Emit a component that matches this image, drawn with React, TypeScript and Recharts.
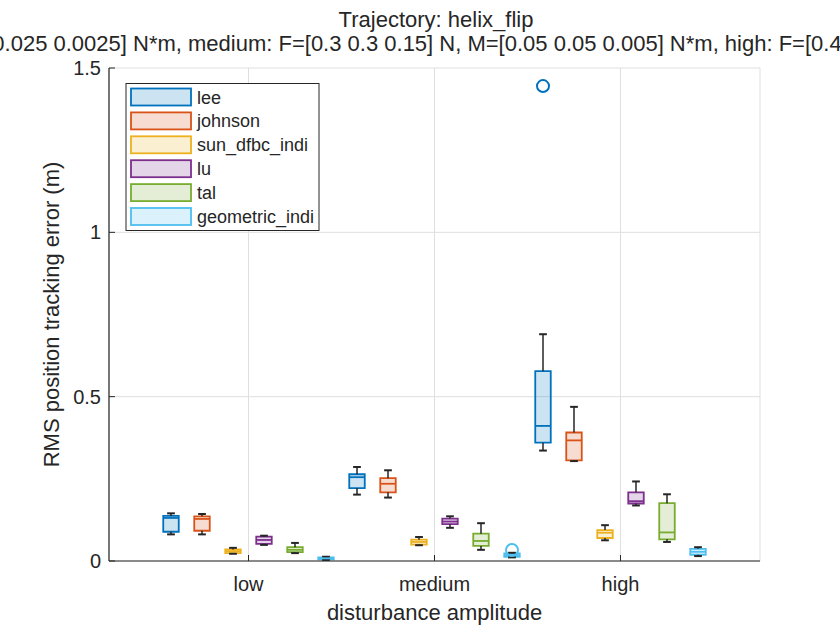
import { ComposedChart, XAxis, YAxis, CartesianGrid, ReferenceArea, ReferenceLine, Scatter } from "recharts";

const GROUPS = ["low", "medium", "high"];
const GROUP_X = [1, 2, 3];
const Y_TICKS = [0, 0.5, 1, 1.5];

const CONTROLLERS = ["lee", "johnson", "sun_dfbc_indi", "lu", "tal", "geometric_indi"];
const COLORS = ["#0072BD", "#D95319", "#EDB120", "#7E2F8E", "#77AC30", "#4DBEEE"];

// [min whisker, q1, median, q3, max whisker] for low / medium / high
const LEE = [
  [0.081, 0.089, 0.131, 0.137, 0.145],
  [0.202, 0.222, 0.255, 0.264, 0.286],
  [0.336, 0.36, 0.411, 0.578, 0.69],
];
const JOHNSON = [
  [0.081, 0.092, 0.128, 0.136, 0.143],
  [0.193, 0.209, 0.235, 0.252, 0.276],
  [0.304, 0.306, 0.367, 0.391, 0.469],
];
const SUN_DFBC_INDI = [
  [0.022, 0.024, 0.03, 0.035, 0.04],
  [0.048, 0.05, 0.058, 0.065, 0.073],
  [0.063, 0.07, 0.086, 0.094, 0.109],
];
const LU = [
  [0.049, 0.052, 0.064, 0.074, 0.077],
  [0.101, 0.112, 0.12, 0.129, 0.136],
  [0.169, 0.175, 0.182, 0.209, 0.242],
];
const TAL = [
  [0.024, 0.027, 0.034, 0.042, 0.055],
  [0.034, 0.046, 0.061, 0.083, 0.115],
  [0.058, 0.066, 0.087, 0.176, 0.203],
];
const GEOMETRIC_INDI = [
  [0.003, 0.005, 0.008, 0.011, 0.013],
  [0.011, 0.013, 0.018, 0.023, 0.025],
  [0.015, 0.019, 0.028, 0.037, 0.042],
];
const SUMMARIES = [LEE, JOHNSON, SUN_DFBC_INDI, LU, TAL, GEOMETRIC_INDI];

const OUTLIERS = [
  { controller: 0, group: 2, value: 1.445 },
  { controller: 5, group: 1, value: 0.0335 },
];

const TITLE = "Trajectory: helix_flip";
const SUBTITLE =
  "low: F=[0.15 0.15 0.075] N, M=[0.025 0.025 0.0025] N*m, medium: F=[0.3 0.3 0.15] N, M=[0.05 0.05 0.005] N*m, high: F=[0.45 0.45 0.225] N, M=[0.075 0.075 0.0075] N*m";

const FONT = "'Liberation Sans', Arial, Helvetica, sans-serif";
const INK = "#262626";
const SLOT = 1 / 6;
const HALF_BOX = SLOT / 4;
const HALF_CAP = SLOT / 8;

const boxes = CONTROLLERS.flatMap((name, ci) =>
  GROUP_X.map((gx, gi) => ({
    key: `${name}-${gi}`,
    color: COLORS[ci],
    x: gx + (ci - 2.5) * SLOT,
    s: SUMMARIES[ci][gi],
  }))
);

const outlierPoints = OUTLIERS.map((o) => ({
  x: GROUP_X[o.group] + (o.controller - 2.5) * SLOT,
  y: o.value,
  color: COLORS[o.controller],
}));

const XTick = ({ x, y, payload }: any) => (
  <g>
    <line x1={x} x2={x} y1={y} y2={y - 6} stroke={INK} strokeWidth={1} />
    <text x={x} y={y + 30} textAnchor="middle" fontSize={20} fill={INK} fontFamily={FONT}>
      {GROUPS[GROUP_X.indexOf(payload.value)]}
    </text>
  </g>
);

const YTick = ({ x, y, payload }: any) => (
  <g>
    <line x1={x} x2={x + 6} y1={y} y2={y} stroke={INK} strokeWidth={1} />
    <text x={x - 8} y={y + 7} textAnchor="end" fontSize={20} fill={INK} fontFamily={FONT}>
      {String(payload.value)}
    </text>
  </g>
);

const XLabel = (props: any) => {
  const vb = props.viewBox || { x: 109, y: 561, width: 651, height: 60 };
  return (
    <text x={vb.x + vb.width / 2} y={vb.y + 59} textAnchor="middle" fontSize={22} fill={INK} fontFamily={FONT}>
      disturbance amplitude
    </text>
  );
};

const YLabel = (props: any) => {
  const vb = props.viewBox || { x: 39, y: 68, width: 70, height: 493 };
  const lx = vb.x + 20;
  const ly = vb.y + vb.height / 2;
  return (
    <text
      x={lx}
      y={ly}
      transform={`rotate(-90, ${lx}, ${ly})`}
      textAnchor="middle"
      fontSize={22}
      fill={INK}
      fontFamily={FONT}
    >
      RMS position tracking error (m)
    </text>
  );
};

function boxElements() {
  const out: any[] = [];
  boxes.forEach((b) => {
    const [lo, q1, med, q3, hi] = b.s;
    out.push(
      <ReferenceLine key={`${b.key}-us`} segment={[{ x: b.x, y: q3 }, { x: b.x, y: hi }]} stroke={INK} strokeWidth={1.5} />,
      <ReferenceLine key={`${b.key}-ls`} segment={[{ x: b.x, y: lo }, { x: b.x, y: q1 }]} stroke={INK} strokeWidth={1.5} />,
      <ReferenceLine
        key={`${b.key}-uc`}
        segment={[{ x: b.x - HALF_CAP, y: hi }, { x: b.x + HALF_CAP, y: hi }]}
        stroke={INK}
        strokeWidth={2}
      />,
      <ReferenceLine
        key={`${b.key}-lc`}
        segment={[{ x: b.x - HALF_CAP, y: lo }, { x: b.x + HALF_CAP, y: lo }]}
        stroke={INK}
        strokeWidth={2}
      />,
      <ReferenceArea
        key={`${b.key}-box`}
        x1={b.x - HALF_BOX}
        x2={b.x + HALF_BOX}
        y1={q1}
        y2={q3}
        fill={b.color}
        fillOpacity={0.2}
        stroke={b.color}
        strokeWidth={1.8}
        strokeOpacity={1}
      />,
      <ReferenceLine
        key={`${b.key}-med`}
        segment={[{ x: b.x - HALF_BOX, y: med }, { x: b.x + HALF_BOX, y: med }]}
        stroke={b.color}
        strokeWidth={1.8}
      />
    );
  });
  return out;
}

function Legend() {
  return (
    <svg width={840} height={630} style={{ position: "absolute", left: 0, top: 0, pointerEvents: "none" }}>
      <rect x={126} y={83.5} width={193} height={147} fill="#ffffff" stroke={INK} strokeWidth={1} />
      {CONTROLLERS.map((name, i) => {
        const top = 88.5 + i * 23.9;
        return (
          <g key={name}>
            <rect x={131} y={top} width={60} height={17} fill="#ffffff" />
            <rect
              x={131}
              y={top}
              width={60}
              height={17}
              fill={COLORS[i]}
              fillOpacity={0.2}
              stroke={COLORS[i]}
              strokeWidth={1.8}
            />
            <text x={197} y={top + 15} fontSize={18} fill={INK} fontFamily={FONT}>
              {name}
            </text>
          </g>
        );
      })}
      <text x={436} y={26.5} textAnchor="middle" fontSize={22} fill={INK} fontFamily={FONT}>
        {TITLE}
      </text>
      <text x={-377} y={50.5} fontSize={22} fill={INK} fontFamily={FONT}>
        {SUBTITLE}
      </text>
    </svg>
  );
}

export default function App() {
  return (
    <div style={{ position: "absolute", left: 0, top: 0, width: 840, height: 630, background: "#ffffff", fontFamily: FONT }}>
      <ComposedChart width={840} height={630} margin={{ top: 68, right: 80, bottom: 9, left: 39 }}>
        <CartesianGrid stroke="#dfdfdf" strokeWidth={1} />
        <XAxis
          type="number"
          dataKey="x"
          domain={[0.25, 3.75]}
          ticks={GROUP_X}
          interval={0}
          height={60}
          tickSize={0}
          tickMargin={0}
          tickLine={false}
          axisLine={{ stroke: INK, strokeWidth: 1.2 }}
          tick={<XTick />}
          label={{ content: XLabel }}
          allowDataOverflow
        />
        <YAxis
          type="number"
          domain={[0, 1.5]}
          ticks={Y_TICKS}
          interval={0}
          width={70}
          tickSize={0}
          tickMargin={0}
          tickLine={false}
          axisLine={{ stroke: INK, strokeWidth: 1.2 }}
          tick={<YTick />}
          label={{ content: YLabel }}
          allowDataOverflow
        />
        {boxElements()}
        <Scatter
          data={outlierPoints}
          dataKey="y"
          isAnimationActive={false}
          shape={(p: any) => (
            <circle cx={p.cx} cy={p.cy} r={6} fill="none" stroke={p.payload.color} strokeWidth={2} />
          )}
        />
      </ComposedChart>
      <Legend />
    </div>
  );
}
